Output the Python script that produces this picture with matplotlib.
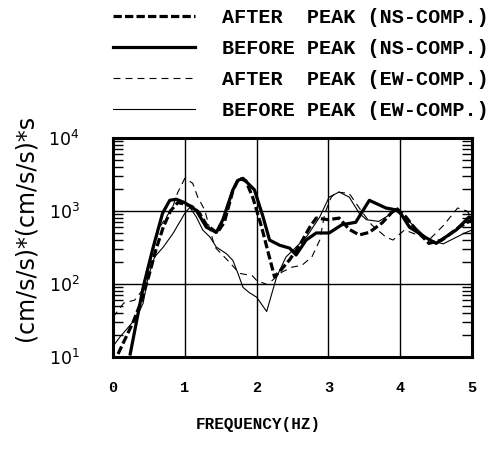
import matplotlib
matplotlib.use('Agg')
import matplotlib.pyplot as plt
from matplotlib.ticker import LogLocator, FixedLocator, NullFormatter

# NS component, after peak (thick dashed)
f_ns_after = [0.07, 0.28, 0.4, 0.5, 0.6, 0.7, 0.8, 0.9, 1.0, 1.1, 1.2, 1.3, 1.45, 1.55, 1.67,
              1.75, 1.85, 1.95, 2.07, 2.18, 2.25, 2.35, 2.46, 2.6, 2.74, 2.83, 3.0, 3.15, 3.29,
              3.43, 3.57, 3.75, 3.94, 4.08, 4.22, 4.4, 4.58, 4.82, 5.0]
v_ns_after = [11, 30, 60, 130, 300, 600, 1000, 1300, 1250, 1150, 950, 650, 500, 700, 1900,
              2800, 2600, 1500, 600, 230, 125, 160, 215, 340, 600, 800, 760, 800, 560,
              470, 510, 690, 1100, 830, 550, 360, 400, 600, 760]

# NS component, before peak (thick solid)
f_ns_before = [0.24, 0.42, 0.56, 0.69, 0.79, 0.88, 1.0, 1.16, 1.3, 1.44, 1.53, 1.67, 1.74, 1.81,
               1.97, 2.09, 2.18, 2.32, 2.46, 2.55, 2.69, 2.83, 3.01, 3.19, 3.38, 3.57, 3.8,
               3.98, 4.13, 4.36, 4.5, 4.78, 4.96, 5.0]
v_ns_before = [11, 90, 320, 930, 1400, 1450, 1300, 1020, 600, 510, 760, 1950, 2630, 2800,
               1950, 830, 400, 340, 310, 250, 400, 500, 500, 650, 700, 1400, 1100,
               1020, 600, 430, 360, 550, 830, 800]

# EW component, after peak (thin dashed)
f_ew_after = [0.0, 0.15, 0.3, 0.4, 0.47, 0.56, 0.65, 0.83, 0.9, 1.0, 1.11, 1.18, 1.28, 1.35,
              1.42, 1.63, 1.76, 1.94, 2.0, 2.15, 2.35, 2.49, 2.63, 2.77, 2.88, 2.95, 3.04,
              3.12, 3.29, 3.43, 3.6, 3.8, 3.9, 4.06, 4.24, 4.4, 4.6, 4.8, 4.93, 5.0]
v_ew_after = [35, 55, 60, 80, 155, 295, 600, 1120, 1780, 2800, 2400, 1550, 1020, 550,
              320, 195, 140, 130, 112, 98, 145, 170, 180, 235, 400, 930, 1550,
              1820, 1740, 1100, 650, 440, 400, 550, 470, 400, 630, 1100, 1000, 800]

# EW component, before peak (thin solid)
f_ew_before = [0.0, 0.1, 0.19, 0.33, 0.42, 0.49, 0.58, 0.7, 0.84, 1.0, 1.07, 1.16, 1.25, 1.35,
               1.44, 1.58, 1.67, 1.74, 1.81, 1.9, 2.0, 2.14, 2.28, 2.41, 2.55, 2.7, 2.88,
               3.01, 3.15, 3.29, 3.43, 3.53, 3.7, 3.94, 4.13, 4.4, 4.6, 4.9, 5.0]
v_ew_before = [14, 19, 24, 35, 55, 126, 235, 320, 500, 930, 1120, 830, 550, 440,
               320, 260, 210, 140, 90, 76, 66, 42, 126, 235, 320, 450, 830,
               1550, 1820, 1550, 930, 760, 720, 1000, 710, 400, 355, 500, 550]

x_ticks = [0, 1, 2, 3, 4, 5]
y_ticks = [1e1, 1e2, 1e3, 1e4]
y_tick_labels = ['$10^1$', '$10^2$', '$10^3$', '$10^4$']

mono = {'family': 'Liberation Mono', 'weight': 'bold'}

fig = plt.figure(figsize=(4.92, 4.5), dpi=100)
ax = fig.add_axes([113 / 492, 93 / 450, 359 / 492, 219 / 450])

ax.plot(f_ns_after, v_ns_after, color='black', lw=2.3, dashes=(2.6, 1.0),
        label='AFTER  PEAK (NS-COMP.)')
ax.plot(f_ns_before, v_ns_before, color='black', lw=2.3,
        label='BEFORE PEAK (NS-COMP.)')
ax.plot(f_ew_after, v_ew_after, color='black', lw=0.8, dashes=(6.3, 4.5),
        label='AFTER  PEAK (EW-COMP.)')
ax.plot(f_ew_before, v_ew_before, color='black', lw=0.8,
        label='BEFORE PEAK (EW-COMP.)')

ax.set_yscale('log')
ax.set_xlim(0, 5)
ax.set_ylim(10, 1e4)

ax.xaxis.set_major_locator(FixedLocator(x_ticks))
ax.set_xticklabels([str(t) for t in x_ticks], fontdict=mono, fontsize=11)
ax.yaxis.set_major_locator(FixedLocator(y_ticks))
ax.set_yticklabels(y_tick_labels, fontsize=12.5)
ax.yaxis.set_minor_locator(LogLocator(base=10, subs=range(2, 10)))
ax.yaxis.set_minor_formatter(NullFormatter())

ax.tick_params(axis='x', length=0, pad=17)
ax.tick_params(axis='y', which='major', length=0, pad=24)
ax.tick_params(axis='y', which='minor', direction='in', length=7, width=1,
               left=True, right=True)

ax.grid(True, which='major', color='black', lw=1)
for s in ax.spines.values():
    s.set_linewidth(2.2)

fig.text(26 / 492, 1 - 228 / 450, '(cm/s/s)*(cm/s/s)*s', rotation=90,
         ha='center', va='center', fontsize=17, family='DejaVu Sans')
fig.text(258 / 492, 1 - 425 / 450, 'FREQUENCY(HZ)', ha='center', va='center',
         fontsize=11.5, **mono)

ax.legend(loc='upper left', bbox_to_anchor=(113 / 492, 1 - 8 / 450),
          bbox_transform=fig.transFigure, frameon=False,
          prop={'family': 'Liberation Mono', 'weight': 'bold', 'size': 14.5},
          handlelength=4.07, handletextpad=1.34, labelspacing=0.6,
          borderpad=0, borderaxespad=0)

fig.savefig('out.png', dpi=100)
